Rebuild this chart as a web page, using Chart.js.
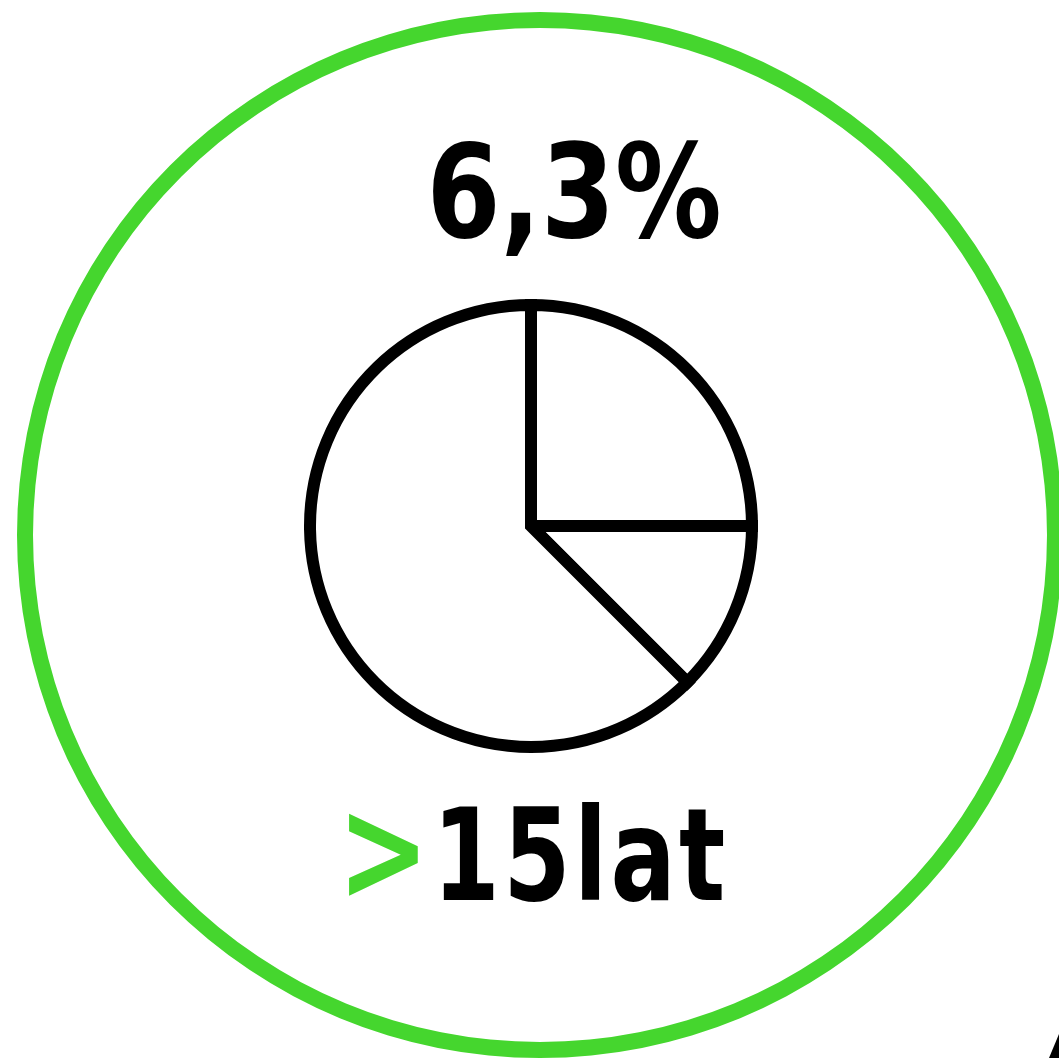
<!DOCTYPE html>
<html>
<head>
<meta charset="utf-8">
<script src="https://cdn.jsdelivr.net/npm/chart.js@4/dist/chart.umd.min.js"></script>
<style>
  html,body{margin:0;padding:0;background:#fff;width:1059px;height:1058px;overflow:hidden;position:relative}
  .abs{position:absolute}
  #ringWrap{left:17px;top:12px;width:1046px;height:1046px}
  #pieWrap{left:304px;top:299px;width:454px;height:454px}
  .big{font-family:"Liberation Sans Narrow","DejaVu Sans Condensed","DejaVu Sans",sans-serif;font-weight:bold;line-height:1;white-space:nowrap;color:#000}
  #value{left:574px;top:127px;font-size:130px;transform:translateX(-50%) scaleX(0.91)}
  #label{left:533px;top:777px;font-size:128px;letter-spacing:4px;transform:translateX(-50%) scaleX(0.84)}
  #label .gt{color:#45d62e;font-size:145px}
  #edge{right:0;bottom:0;width:10px;height:24px;background:#000;clip-path:polygon(100% 0,100% 100%,0 100%)}
</style>
</head>
<body>
<div id="ringWrap" class="abs"><canvas id="ring"></canvas></div>
<div id="pieWrap" class="abs"><canvas id="pie"></canvas></div>
<div id="value" class="abs big"></div>
<div id="label" class="abs big"></div>
<div id="edge" class="abs"></div>
<script>
'use strict';
// wartość udziału i etykieta grupy
const shareLabel = '6,3%';
const groupPrefix = '>';
const groupLabel = '15lat';
// pierścień – jeden pełny segment
const ringValues = [1];
// ikona wykresu kołowego (udziały wycinków, zgodnie z ruchem wskazówek zegara od góry)
const pieValues = [25, 12.5, 62.5];

document.getElementById('value').textContent = shareLabel;
const lab = document.getElementById('label');
const gt = document.createElement('span'); gt.className = 'gt'; gt.textContent = groupPrefix;
lab.appendChild(gt); lab.appendChild(document.createTextNode(groupLabel));

const green = '#45d62e';
const common = {
  responsive:true, maintainAspectRatio:false, animation:false,
  events:[],
  layout:{padding:0},
  plugins:{legend:{display:false},tooltip:{enabled:false},title:{display:false}}
};

new Chart(document.getElementById('ring'), {
  type:'doughnut',
  data:{labels:['ring'], datasets:[{data:ringValues, backgroundColor:green, borderWidth:0, hoverOffset:0}]},
  options:{...common, cutout:507}
});

new Chart(document.getElementById('pie'), {
  type:'pie',
  data:{labels:['a','b','c'], datasets:[{data:pieValues, backgroundColor:'#fff', borderColor:'#000', borderWidth:12, borderJoinStyle:'miter', hoverOffset:0}]},
  options:{...common}
});
</script>
</body>
</html>
